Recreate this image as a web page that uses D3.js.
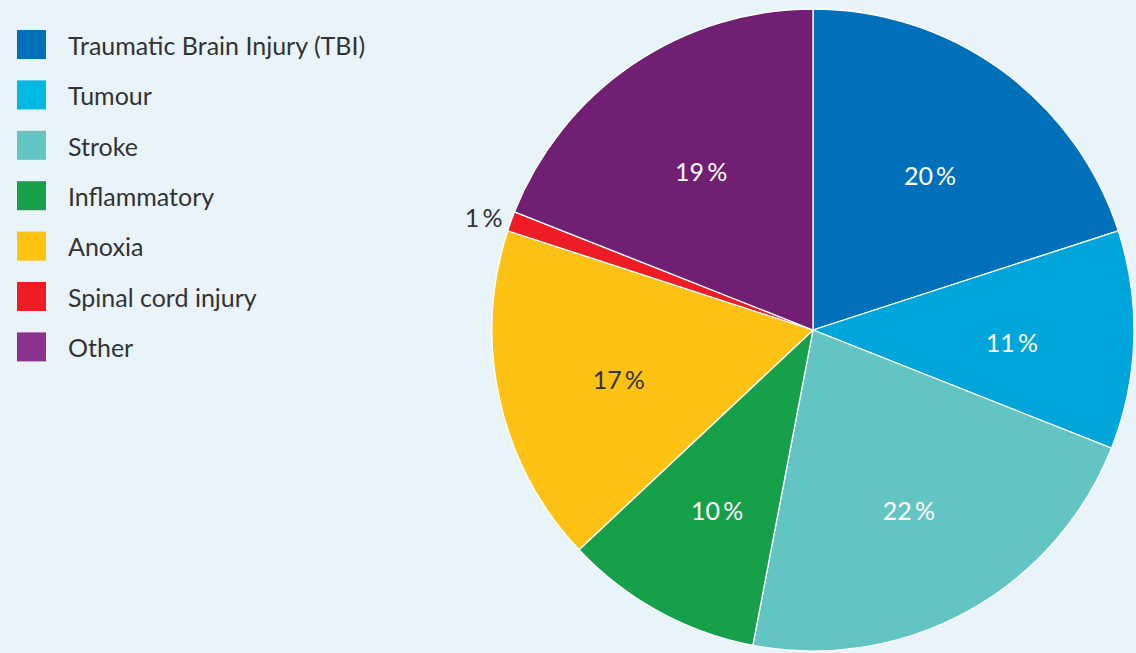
<!DOCTYPE html>
<html>
<head>
<meta charset="utf-8">
<script src="https://cdn.jsdelivr.net/npm/d3@7"></script>
<style>
  html, body { margin: 0; padding: 0; background: #e8f4fa; }
  svg { display: block; font-family: Lato, "Open Sans", sans-serif; }
</style>
</head>
<body>
<div id="chart"></div>
<script>
// data
const categories = ["Traumatic Brain Injury (TBI)", "Tumour", "Stroke", "Inflammatory", "Anoxia", "Spinal cord injury", "Other"];
const values = [20, 11, 22, 10, 17, 1, 19];
const sliceColors = ["#0070bb", "#00a6db", "#63c5c3", "#16a04a", "#fdc213", "#ee1c25", "#701f73"];
const legendColors = ["#0070bb", "#00b9e3", "#63c6c3", "#16a04a", "#fec212", "#ee1c25", "#8b318f"];
const labelColors = ["#fff", "#fff", "#fff", "#fff", "#333", "#333", "#fff"];

const width = 1136, height = 653;
const svg = d3.select("#chart").append("svg")
    .attr("width", width)
    .attr("height", height);

svg.append("rect").attr("width", width).attr("height", height).attr("fill", "#e8f4fa");

// legend
const legend = svg.append("g").attr("transform", "translate(17,30)");
const item = legend.selectAll("g")
    .data(categories)
    .enter().append("g")
    .attr("transform", (d, i) => `translate(0,${i * 50.4})`);
item.append("rect")
    .attr("width", 29)
    .attr("height", 29)
    .attr("fill", (d, i) => legendColors[i]);
item.append("text")
    .attr("x", 51)
    .attr("y", 16)
    .attr("dy", "0.35em")
    .attr("font-size", 25)
    .attr("fill", "#333")
    .text(d => d);

// pie
const cx = 813, cy = 330, radius = 321;
const pie = d3.pie().sort(null).value(d => d);
const arcs = pie(values);
const arc = d3.arc().innerRadius(0).outerRadius(radius);
const labelArc = d3.arc().innerRadius(199).outerRadius(199);
const outerArc = d3.arc().innerRadius(350).outerRadius(350);

const g = svg.append("g").attr("transform", `translate(${cx},${cy})`);
g.selectAll("path")
    .data(arcs)
    .enter().append("path")
    .attr("d", arc)
    .attr("fill", (d, i) => sliceColors[i])
    .attr("stroke", "#fff")
    .attr("stroke-width", 1.3);

g.selectAll("text.lbl")
    .data(arcs)
    .enter().append("text")
    .attr("class", "lbl")
    .attr("transform", d => {
        const [x, y] = (d.data < 5 ? outerArc : labelArc).centroid(d);
        return `translate(${x},${y + 7})`;
    })
    .attr("text-anchor", "middle")
    .attr("dy", "0.35em")
    .attr("font-size", 25)
    .attr("fill", (d, i) => labelColors[i])
    .text(d => d.data + "\u2009%");
</script>
</body>
</html>
